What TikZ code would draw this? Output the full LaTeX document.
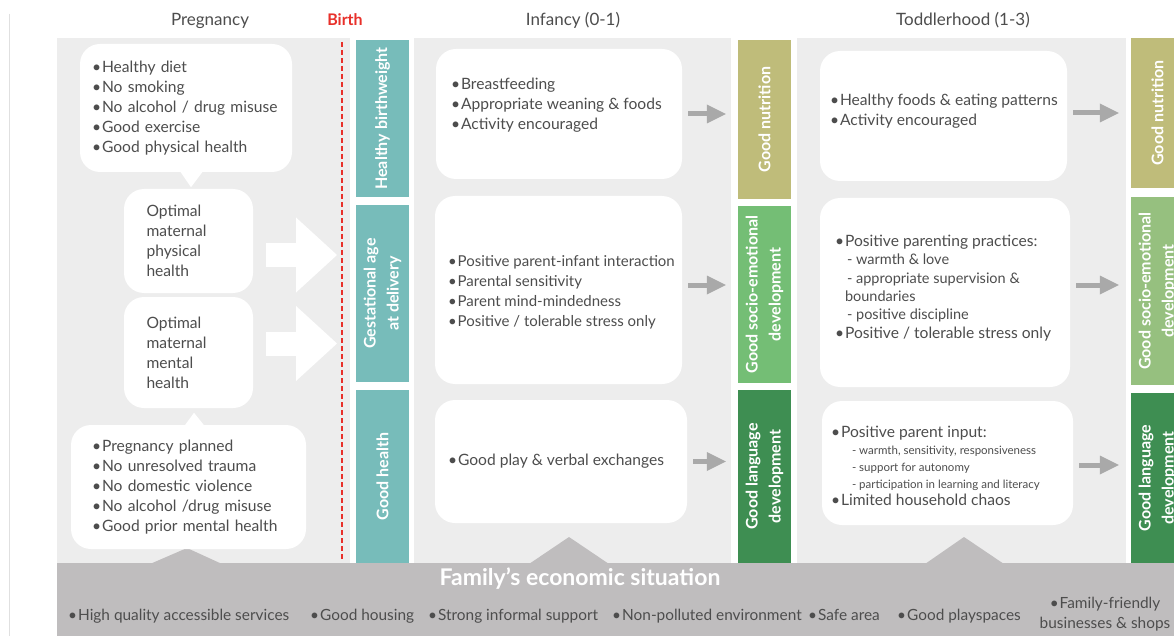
\documentclass[tikz,border=0pt]{standalone}
\usepackage{fontspec}
\setmainfont{Lato}
\usetikzlibrary{positioning, arrows.meta}
\definecolor{earlytext}{RGB}{77,77,77}
\definecolor{earlyrule}{RGB}{224,224,224}
\definecolor{earlypanel}{RGB}{237,237,237}
\definecolor{earlyband}{RGB}{191,189,190}
\definecolor{earlyteal}{RGB}{119,188,186}
\definecolor{earlykhaki}{RGB}{191,188,122}
\definecolor{earlygreen}{RGB}{116,190,117}
\definecolor{earlylightgreen}{RGB}{150,192,127}
\definecolor{earlydarkgreen}{RGB}{62,142,82}
\definecolor{earlyred}{RGB}{232,48,42}
\definecolor{earlyarrow}{RGB}{169,169,169}
\newcommand{\bul}{\textbullet\hspace{1pt}}
\newcommand{\minoritem}[1]{\hspace*{12pt}{\fontsize{14.5}{18}\selectfont - #1}}
\newcommand{\tinyitem}[1]{\hspace*{21pt}{\fontsize{11.5}{17}\selectfont - #1}}
\begin{document}
\begin{tikzpicture}[
    x=1pt, y=-1pt,
    every node/.style={font=\fontsize{15.6}{20}\selectfont, text=earlytext},
    header/.style={anchor=base, font=\fontsize{17}{20}\selectfont},
    whitebox/.style={rectangle, rounded corners=20pt, fill=white, align=left, inner sep=0pt},
    boxtext/.style={align=left, anchor=west, inner sep=0pt},
    outcome/.style={rectangle, rotate=90, minimum height=53pt, inner sep=0pt, align=center, text=white, font=\fontsize{16}{23}\selectfont\bfseries},
    flowarrow/.style={-{Triangle[length=19pt, width=19pt, line width=0pt]}, line width=5pt, draw=earlyarrow, shorten <=6pt, shorten >=12pt},
    bigarrow/.style={-{Triangle[length=41pt, width=75pt, line width=0pt]}, line width=24pt, draw=white, shorten >=5pt},
    service/.style={anchor=base west, inner sep=0pt, font=\fontsize{15.4}{20}\selectfont}
]

\useasboundingbox (0,0) rectangle (1174,636);
\clip (0,0) rectangle (1174,636);
\fill[white] (0,0) rectangle (1174,636);
\draw[earlyrule, line width=1pt] (9.5,14) -- (9.5,636);

% stage panels
\fill[earlypanel] (57,38) rectangle (350,563);
\fill[earlypanel] (414,38) rectangle (731,563);
\fill[earlypanel] (797,38) rectangle (1126,563);

% headers
\node[header] (hpreg) at (210,26) {Pregnancy};
\node[header, text=earlyred, font=\fontsize{16}{20}\selectfont\bfseries] (hbirth) at (345,26) {Birth};
\node[header] (hinf) at (573,26) {Infancy (0-1)};
\node[header] (htod) at (963,26) {Toddlerhood (1-3)};

% birth line
\coordinate (birthtop) at (342,42);
\coordinate (birthbot) at (342,560);
\draw[earlyred, line width=2.6pt, dash pattern=on 5pt off 3pt] (birthtop) -- (birthbot);

% outcome columns
\node[outcome, fill=earlyteal, minimum width=157pt] (bw) at (382.5,118.5) {Healthy birthweight};
\node[outcome, fill=earlyteal, minimum width=177pt] (ga) at (382.5,293.5) {Gestational age\\at delivery};
\node[outcome, fill=earlyteal, minimum width=173pt] (gh) at (382.5,476.5) {Good health};

\node[outcome, fill=earlykhaki, minimum width=159pt] (nut) at (764.5,119.5) {Good nutrition};
\node[outcome, fill=earlygreen, minimum width=177pt] (soc) at (764.5,294.5) {Good socio-emotional\\development};
\node[outcome, fill=earlydarkgreen, minimum width=173pt] (lan) at (764.5,476.5) {Good language\\development};

\node[outcome, fill=earlykhaki, minimum width=150pt] (nutb) at (1157.5,113) {Good nutrition};
\node[outcome, fill=earlylightgreen, minimum width=188pt] (socb) at (1157.5,291) {Good socio-emotional\\development};
\node[outcome, fill=earlydarkgreen, minimum width=170pt] (lanb) at (1157.5,478) {Good language\\development};

% economic band
\fill[earlyband] (57,563) rectangle (1180,640);
\fill[earlyband] (150,564) -- (187,548) -- (222,564) -- cycle;
\fill[earlyband] (529,564) -- (569,537) -- (609,564) -- cycle;
\fill[earlyband] (925,564) -- (964,537) -- (1004,564) -- cycle;
\node[text=white, font=\fontsize{23}{24}\selectfont\bfseries] (econ) at (580,579) {Family’s economic situation};

% pregnancy
\node[whitebox, minimum width=212pt, minimum height=128pt, text width=188pt] (pretop) at (186,108)
  {\bul Healthy diet\\ \bul No smoking\\ \bul No alcohol / drug misuse\\ \bul Good exercise\\ \bul Good physical health};
\fill[white] ([xshift=-6pt,yshift=1pt]pretop.south) -- ([xshift=17pt,yshift=1pt]pretop.south) -- ([xshift=5pt,yshift=-15pt]pretop.south) -- cycle;
\node[whitebox, minimum width=129pt, minimum height=104pt, text width=84pt] (phys) at (188.5,241)
  {Optimal\\maternal\\physical\\health};
\node[whitebox, minimum width=129pt, minimum height=111pt, text width=84pt] (ment) at (188.5,352.5)
  {Optimal\\maternal\\mental\\health};
\node[whitebox, minimum width=235pt, minimum height=124pt, text width=193pt] (prebot) at (188.5,487)
  {\bul Pregnancy planned\\ \bul No unresolved trauma\\ \bul No domestic violence\\ \bul No alcohol /drug misuse\\ \bul Good prior mental health};
\fill[white] ([xshift=-4pt,yshift=-1pt]prebot.north) -- ([xshift=16pt,yshift=-1pt]prebot.north) -- ([xshift=5.5pt,yshift=12pt]prebot.north) -- cycle;

\draw[bigarrow] ([xshift=13pt,yshift=-14pt]phys.east) -- ([yshift=-14pt]phys.east -| birthtop);
\draw[bigarrow] ([xshift=13pt,yshift=9pt]ment.east) -- ([yshift=9pt]ment.east -| birthtop);

% infancy
\node[whitebox, minimum width=246pt, minimum height=130pt] (inftop) at (559,114) {};
\node[boxtext] (inftoptext) at ([xshift=15pt,yshift=9pt]inftop.west)
  {\bul Breastfeeding\\ \bul Appropriate weaning \& foods\\ \bul Activity encouraged};
\node[whitebox, minimum width=247pt, minimum height=188pt] (infmid) at (558.5,290) {};
\node[boxtext, font=\fontsize{15}{20}\selectfont] (infmidtext) at ([xshift=13pt,yshift=-2pt]infmid.west)
  {\bul Positive parent-infant interaction\\ \bul Parental sensitivity\\ \bul Parent mind-mindedness\\ \bul Positive / tolerable stress only};
\node[whitebox, minimum width=252pt, minimum height=123pt] (infbot) at (561,461.5) {};
\node[boxtext] (infbottext) at ([xshift=13pt]infbot.west) {\bul Good play \& verbal exchanges};

\draw[flowarrow] (inftop.east) -- (inftop.east -| nut.north);
\draw[flowarrow] ([yshift=5pt]infmid.east) -- ([yshift=5pt]infmid.east -| soc.north);
\draw[flowarrow] (infbot.east) -- (infbot.east -| lan.north);

% toddlerhood
\node[whitebox, minimum width=247pt, minimum height=130pt] (todtop) at (943.5,116) {};
\node[boxtext] (todtoptext) at ([xshift=10pt,yshift=5pt]todtop.west)
  {\bul Healthy foods \& eating patterns\\ \bul Activity encouraged};
\node[whitebox, minimum width=250pt, minimum height=189pt] (todmid) at (945,292.5) {};
\node[boxtext, font=\fontsize{15.6}{18.4}\selectfont] (todmidtext) at ([xshift=15pt,yshift=4.5pt]todmid.west)
  {\bul Positive parenting practices:\\ \minoritem{warmth \& love}\\ \minoritem{appropriate supervision \&}\\
   \hspace*{10pt}{\fontsize{14.5}{18}\selectfont boundaries}\\ \minoritem{positive discipline}\\ \bul Positive / tolerable stress only};
\node[whitebox, minimum width=251pt, minimum height=124pt] (todbot) at (947.5,463) {};
\node[boxtext, font=\fontsize{15.6}{17}\selectfont] (todbottext) at ([xshift=9pt,yshift=-3pt]todbot.west)
  {\bul Positive parent input:\\ \tinyitem{warmth, sensitivity, responsiveness}\\ \tinyitem{support for autonomy}\\
   \tinyitem{participation in learning and literacy}\\ \bul Limited household chaos};

\draw[flowarrow] ([yshift=3pt]todtop.east) -- ([yshift=3pt]todtop.east -| nutb.north);
\draw[flowarrow] ([yshift=7.5pt]todmid.east) -- ([yshift=7.5pt]todmid.east -| socb.north);
\draw[flowarrow] ([yshift=-2pt]todbot.east) -- ([yshift=-2pt]todbot.east -| lanb.north);

% environment
\node[service] (svc1) at (68,620) {\bul High quality accessible services};
\node[service] (svc2) at (310,620) {\bul Good housing};
\node[service] (svc3) at (428,620) {\bul Strong informal support};
\node[service] (svc4) at (612,620) {\bul Non-polluted environment};
\node[service] (svc5) at (808,620) {\bul Safe area};
\node[service] (svc6) at (897,620) {\bul Good playspaces};
\node[align=center, font=\fontsize{15.4}{20}\selectfont] (svc7) at (1105,614) {\bul Family-friendly\\businesses \& shops};

\end{tikzpicture}
\end{document}
